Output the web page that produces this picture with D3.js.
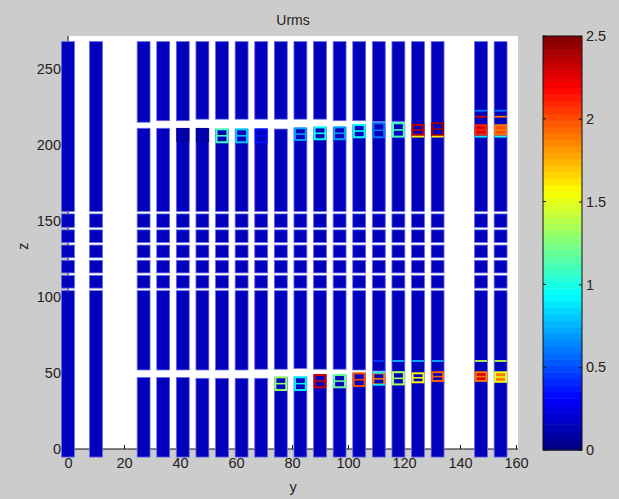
<!DOCTYPE html>
<html>
<head>
<meta charset="utf-8">
<script src="https://cdn.jsdelivr.net/npm/d3@7"></script>
<style>
  body { margin: 0; background: #cccccc; }
  svg { display: block; font-family: "Liberation Sans", Arial, sans-serif; }
</style>
</head>
<body>
<div id="graf"></div>
<script>
// I. Datos
// posiciones y de las columnas
const colY = [0, 10, 27, 34, 41, 48, 55, 62, 69, 76, 83, 90, 97, 104, 111, 118, 125, 132, 147.5, 154.5]
const zBottom = -5.3, zTop = 268
const fondo = 0.15            // valor Urms de fondo (azul)
const cortes = [105, 115, 125, 135, 145, 155.5]   // cortes blancos en todas las columnas
// huecos por columna [zLo, zHi]
const huecoSup = [null, null, [211, 215], [211, 216], [211, 216], [211, 217], [210.3, 217], [210.3, 217], [210.5, 217], [210.5, 217],
  [211, 217], [211.6, 217], [211.6, 216], [213.2, 216], [214.5, 215.5], [214.5, 215.5], null, null, null, null]
const huecoInf = [null, null, [47, 52], [47, 52], [47, 52], [46.5, 52], [46.5, 52], [46.5, 52], [46.5, 52.5], [47.2, 52.5],
  [47.2, 53], [48.7, 52.5], [48.7, 52.5], [49.8, 52], [50.5, 51.3], [50.5, 51], null, null, null, null]
// bandas: [columna, zLo, zHi, Urms borde, Urms interior]
const bandasSup = [
  [4, 202.5, 210.5, 0.07, 0.12], [5, 202.5, 210.5, 0.07, 0.13],
  [6, 201.8, 210.3, 1.1, 0.15], [7, 201.8, 210.3, 0.8, 0.15], [8, 201.8, 210.3, 0.35, 0.15],
  [10, 203.3, 211, 0.7, 0.15], [11, 203.8, 211.6, 0.95, 0.15], [12, 203.8, 211.6, 0.7, 0.15],
  [13, 205.1, 213.2, 0.95, 0.15], [14, 205.1, 214.3, 0.6, 0.15], [15, 205.5, 214.3, 1.1, 0.15],
  [16, 206.6, 213.2, 2.35, 0.15], [17, 206.6, 214.3, 2.45, 0.2],
  [18, 206.8, 213, 2.1, 2.3], [19, 206.8, 213, 1.9, 2.0]
]
const bandasInf = [
  [9, 38.8, 47.2, 1.3, 0.15], [10, 38.8, 47.2, 0.9, 0.15], [11, 40.6, 48.7, 2.3, 0.15],
  [12, 40.6, 48.7, 1.2, 0.15], [13, 41.4, 49.8, 2.0, 0.15], [14, 42.5, 49.8, 1.9, 0.15],
  [15, 42.5, 50.5, 1.35, 0.15], [16, 43.9, 49.8, 1.55, 0.15], [17, 44.8, 50.5, 1.95, 0.15],
  [18, 44.8, 50.5, 1.9, 2.3], [19, 44.2, 50.5, 1.5, 1.9]
]
// lineas sueltas: [columna, z, Urms]
const lineas = [
  [18, 222.6, 0.6], [18, 218.6, 2.3], [19, 222.6, 0.6], [19, 218.6, 1.9],
  [16, 205.5, 1.6], [17, 205.5, 1.6], [18, 205.5, 0.9], [19, 205.5, 1.0],
  [14, 57.9, 0.45], [15, 57.9, 0.75], [16, 57.9, 0.75], [17, 57.9, 0.75], [18, 57.9, 1.4], [19, 57.9, 1.4],
  [14, 50.3, 0.9], [14, 42.3, 0.9]
]
const xTicks = [0, 20, 40, 60, 80, 100, 120, 140, 160]
const zTicks = [0, 50, 100, 150, 200, 250]
const cTicks = [0, 0.5, 1, 1.5, 2, 2.5]
const medio = 2.3   // semiancho de columna

// II. Configuración
const W = 619, H = 499
const svg = d3.select('#graf').append('svg').attr('width', W).attr('height', H)
svg.append('rect').attr('width', W).attr('height', H).attr('fill', '#cccccc')

const x = d3.scaleLinear().domain([0, 160]).range([68, 516])
const z = d3.scaleLinear().domain([0, 250]).range([449, 69])
const xMax = 160.7, zMax = z.invert(36)

function jet(t) {
  const c = v => Math.max(0, Math.min(1, v))
  const r = c(1.5 - Math.abs(4 * t - 3)), g = c(1.5 - Math.abs(4 * t - 2)), b = c(1.5 - Math.abs(4 * t - 1))
  return d3.rgb(r * 255, g * 255, b * 255).formatHex()
}
const color = d3.scaleSequential(jet).domain([0, 2.5])

// área blanca de ejes
svg.append('rect')
  .attr('x', x(0)).attr('y', z(zMax))
  .attr('width', x(xMax) - x(0)).attr('height', z(0) - z(zMax))
  .attr('fill', 'white')

// ejes
const gx = svg.append('g').attr('transform', `translate(0,${z(0)})`)
  .call(d3.axisBottom(x).tickValues(xTicks).tickSizeInner(-4).tickSizeOuter(0).tickPadding(9))
gx.select('.domain').attr('d', `M${x(0)},0H${x(xMax)}`)
const gz = svg.append('g').attr('transform', `translate(${x(0)},0)`)
  .call(d3.axisLeft(z).tickValues(zTicks).tickSizeInner(-4).tickSizeOuter(0).tickPadding(7))
gz.select('.domain').attr('d', `M0,${z(0)}V${z(zMax)}`)
svg.selectAll('.tick text').attr('font-size', 14.5).attr('fill', '#222')
svg.selectAll('.domain, .tick line').attr('stroke', '#111')

// III. Columnas
const g = svg.append('g')
colY.forEach((yc, i) => {
  const huecos = cortes.map(c => [c - 0.85, c + 0.85])
  if (huecoSup[i]) huecos.push(huecoSup[i])
  if (huecoInf[i]) huecos.push(huecoInf[i])
  huecos.sort((a, b) => a[0] - b[0])
  let lo = zBottom
  const segs = []
  huecos.forEach(h => { segs.push([lo, h[0]]); lo = h[1] })
  segs.push([lo, zTop])
  g.selectAll(null).data(segs).enter().append('rect')
    .attr('x', x(yc - medio)).attr('width', x(yc + medio) - x(yc - medio))
    .attr('y', d => z(d[1])).attr('height', d => z(d[0]) - z(d[1]))
    .attr('fill', color(fondo))
    .attr('stroke', '#6a6ae8').attr('stroke-width', 0.8)
})

// bandas de color
const bandas = bandasSup.concat(bandasInf)
g.selectAll('.banda').data(bandas).enter().append('rect')
  .attr('class', 'banda')
  .attr('x', d => x(colY[d[0]] - medio) + 1)
  .attr('width', d => x(colY[d[0]] + medio) - x(colY[d[0]] - medio) - 2)
  .attr('y', d => z(d[2])).attr('height', d => z(d[1]) - z(d[2]))
  .attr('fill', d => color(d[4]))
  .attr('stroke', d => color(d[3])).attr('stroke-width', 2)
g.selectAll('.medio').data(bandas).enter().append('line')
  .attr('class', 'medio')
  .attr('x1', d => x(colY[d[0]] - medio) + 1)
  .attr('x2', d => x(colY[d[0]] + medio) - 1)
  .attr('y1', d => z((d[1] + d[2]) / 2)).attr('y2', d => z((d[1] + d[2]) / 2))
  .attr('stroke', d => color(d[3])).attr('stroke-width', 1.6)
g.selectAll('.linea').data(lineas).enter().append('line')
  .attr('class', 'linea')
  .attr('x1', d => x(colY[d[0]] - medio) + 0.5)
  .attr('x2', d => x(colY[d[0]] + medio) - 0.5)
  .attr('y1', d => z(d[1])).attr('y2', d => z(d[1]))
  .attr('stroke', d => color(d[2])).attr('stroke-width', 1.8)

// textos
svg.append('text').attr('x', 293).attr('y', 25).attr('text-anchor', 'middle')
  .attr('font-size', 14).attr('fill', '#222').text('Urms')
svg.append('text').attr('x', 293).attr('y', 492).attr('text-anchor', 'middle')
  .attr('font-size', 14.5).attr('fill', '#222').text('y')
svg.append('text').attr('transform', 'translate(28,246) rotate(-90)').attr('text-anchor', 'middle')
  .attr('font-size', 14.5).attr('fill', '#222').text('z')

// IV. Barra de color
const cb = { x: 543, w: 39, top: 36, bottom: 450 }
const c = d3.scaleLinear().domain([0, 2.5]).range([cb.bottom, cb.top])
const pasos = d3.range(64)
svg.append('g').selectAll('rect').data(pasos).enter().append('rect')
  .attr('x', cb.x).attr('width', cb.w)
  .attr('y', d => c((d + 1) * 2.5 / 64)).attr('height', c(0) - c(2.5 / 64) + 0.5)
  .attr('fill', d => color((d + 0.5) * 2.5 / 64))
svg.append('rect').attr('x', cb.x).attr('y', cb.top).attr('width', cb.w).attr('height', cb.bottom - cb.top)
  .attr('fill', 'none').attr('stroke', '#111')
const gc = svg.append('g').attr('transform', `translate(${cb.x + cb.w},0)`)
  .call(d3.axisRight(c).tickValues(cTicks).tickFormat(d3.format('')).tickSizeInner(-3).tickSizeOuter(0).tickPadding(4))
gc.select('.domain').remove()
gc.selectAll('text').attr('font-size', 14.5).attr('fill', '#222')
gc.selectAll('line').attr('stroke', '#111')
svg.append('g').selectAll('line').data(cTicks).enter().append('line')
  .attr('x1', cb.x).attr('x2', cb.x + 3).attr('y1', d => c(d)).attr('y2', d => c(d))
  .attr('stroke', '#111')
</script>
</body>
</html>
